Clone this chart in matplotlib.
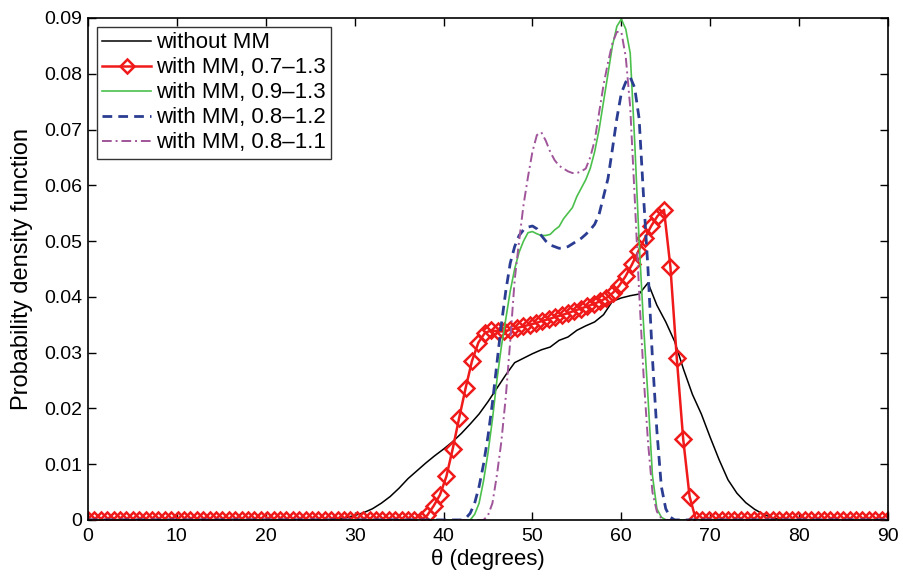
import numpy as np
import matplotlib
matplotlib.use("Agg")
from matplotlib import pyplot as plt

plt.rcParams['font.family'] = ['Liberation Sans', 'DejaVu Sans']

# black curve, one value per degree (0..90)
theta_black = np.arange(0, 91, 1)
pdf_black = [
    0, 0, 0, 0, 0, 0, 0, 0, 0, 0,
    0, 0, 0, 0, 0, 0, 0, 0, 0, 0,
    0, 0, 0, 0, 0, 0, 0, 0, 0.0002, 0.0004,
    0.0008, 0.0013, 0.002, 0.003, 0.0042, 0.0057, 0.0074, 0.0088, 0.0102, 0.0115,
    0.0127, 0.014, 0.0155, 0.0172, 0.019, 0.0212, 0.0236, 0.026, 0.0282, 0.029,
    0.0298, 0.0305, 0.031, 0.0322, 0.0328, 0.034, 0.0348, 0.0355, 0.0368, 0.0392,
    0.0398, 0.0402, 0.0405, 0.0425, 0.0385, 0.0355, 0.032, 0.027, 0.0225, 0.019,
    0.0148, 0.0108, 0.0072, 0.0048, 0.0031, 0.0019, 0.001, 0.0004, 0, 0,
    0, 0, 0, 0, 0, 0, 0, 0, 0, 0,
    0,
]

# red curve with diamonds, 126 samples over 0..90
theta_red = np.linspace(0, 90, 126)
pdf_red = [
    0, 0, 0, 0, 0, 0, 0, 0, 0, 0,
    0, 0, 0, 0, 0, 0, 0, 0, 0, 0,
    0, 0, 0, 0, 0, 0, 0, 0, 0, 0,
    0, 0, 0, 0, 0, 0, 0, 0, 0, 0,
    0, 0, 0, 0, 0, 0, 0, 0, 0, 0,
    0, 0, 0, 0.0008, 0.0025, 0.0045, 0.0078, 0.0128, 0.0183, 0.0236,
    0.0285, 0.0318, 0.0335, 0.034, 0.0338, 0.0338, 0.0341, 0.0344, 0.0347, 0.035,
    0.0353, 0.0357, 0.036, 0.0364, 0.0367, 0.0371, 0.0375, 0.0379, 0.0383, 0.0387,
    0.0392, 0.0398, 0.0407, 0.042, 0.0437, 0.0458, 0.0482, 0.0505, 0.0527, 0.0545,
    0.0556, 0.0454, 0.029, 0.0145, 0.0042, 0, 0, 0, 0, 0,
    0, 0, 0, 0, 0, 0, 0, 0, 0, 0,
    0, 0, 0, 0, 0, 0, 0, 0, 0, 0,
    0, 0, 0, 0, 0, 0,
]

# narrow curves, half-degree samples between 40 and 67 (zero elsewhere)
theta_mm = np.concatenate([[0], np.arange(40, 67.01, 0.5), [90]])
pdf_green = [
    0,
    0, 0, 0, 0, 0, 0, 0, 0.001, 0.003, 0.007,
    0.012, 0.018, 0.025, 0.031, 0.036, 0.041, 0.045, 0.048, 0.050, 0.0515,
    0.0517, 0.0513, 0.051, 0.051, 0.0512, 0.052, 0.0526, 0.054, 0.055, 0.056,
    0.058, 0.0595, 0.061, 0.063, 0.066, 0.070, 0.075, 0.080, 0.085, 0.0885,
    0.0898, 0.088, 0.0837, 0.068, 0.050, 0.035, 0.022, 0.008, 0.002, 0.0005,
    0, 0, 0, 0, 0,
    0,
]
pdf_blue = [
    0,
    0, 0, 0, 0, 0, 0.0003, 0.0012, 0.003, 0.006, 0.010,
    0.015, 0.021, 0.028, 0.035, 0.041, 0.046, 0.049, 0.051, 0.052, 0.0525,
    0.0527, 0.0522, 0.051, 0.050, 0.0493, 0.049, 0.0487, 0.0488, 0.049, 0.0495,
    0.050, 0.0505, 0.0512, 0.052, 0.053, 0.0548, 0.058, 0.0612, 0.0665, 0.072,
    0.0765, 0.0785, 0.0794, 0.0775, 0.072, 0.058, 0.045, 0.029, 0.016, 0.006,
    0.002, 0.0005, 0, 0, 0,
    0,
]
pdf_magenta = [
    0,
    0, 0, 0, 0, 0, 0, 0, 0, 0, 0,
    0.0008, 0.003, 0.008, 0.014, 0.022, 0.032, 0.043, 0.050, 0.0565, 0.0615,
    0.066, 0.069, 0.0695, 0.068, 0.066, 0.0645, 0.0635, 0.063, 0.0625, 0.0622,
    0.0622, 0.0625, 0.063, 0.065, 0.068, 0.073, 0.078, 0.082, 0.0855, 0.0875,
    0.0875, 0.083, 0.074, 0.058, 0.041, 0.026, 0.014, 0.005, 0.0015, 0.0003,
    0, 0, 0, 0, 0,
    0,
]

labels = ['without MM', 'with MM, 0.7\u20131.3', 'with MM, 0.9\u20131.3',
          'with MM, 0.8\u20131.2', 'with MM, 0.8\u20131.1']

fig = plt.figure(figsize=(9.04, 5.79), dpi=100)
ax = fig.add_axes([0.0973, 0.102, 0.885, 0.867])

ax.plot(theta_black, pdf_black, color='black', lw=1.1, label=labels[0])
ax.plot(theta_red, pdf_red, color='#f01a1a', lw=1.8, marker='D', ms=8.5,
        mfc='none', mec='#f01a1a', mew=1.8, label=labels[1])
ax.plot(theta_mm, pdf_green, color='#4cc04c', lw=1.2, label=labels[2])
ax.plot(theta_mm, pdf_blue, color='#2b3d92', lw=2.0, ls=(0, (3.5, 2.2)), label=labels[3])
ax.plot(theta_mm, pdf_magenta, color='#a0559a', lw=1.4, ls=(0, (5, 2, 1, 2)), label=labels[4])

ax.set_xlim(0, 90)
ax.set_ylim(0, 0.09)
ax.set_xticks(np.arange(0, 91, 10))
ax.set_yticks(np.arange(0, 0.091, 0.01))
ax.set_yticklabels(['0', '0.01', '0.02', '0.03', '0.04', '0.05', '0.06', '0.07', '0.08', '0.09'])
ax.tick_params(direction='in', top=True, right=True, length=6, width=1, labelsize=14)
ax.tick_params(axis='x', pad=6)
ax.tick_params(axis='y', pad=4)
for s in ax.spines.values():
    s.set_linewidth(1.2)

ax.set_xlabel('\u03b8 (degrees)', fontsize=16, labelpad=3)
ax.set_ylabel('Probability density function', fontsize=17, labelpad=8)

leg = ax.legend(loc='upper left', fontsize=16, handlelength=2.2, handletextpad=0.2,
                borderpad=0.25, labelspacing=0.18, borderaxespad=0.4, fancybox=False,
                markerscale=0.8)
leg.get_frame().set_edgecolor('black')
leg.get_frame().set_linewidth(1.0)

fig.savefig('out.png', dpi=100)
